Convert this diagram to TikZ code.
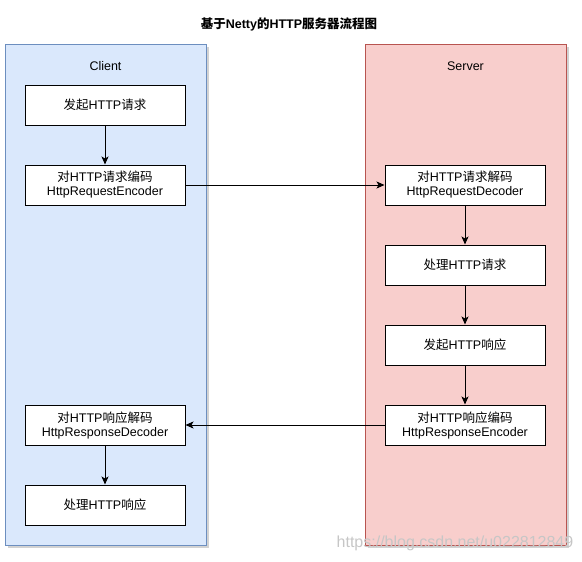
\documentclass[tikz,border=0pt]{standalone}
\usepackage{fontspec}
\setmainfont{Liberation Sans}
\newfontfamily\cjk{Noto Sans CJK SC}
\newcommand{\zh}[1]{{\cjk #1}}
\usetikzlibrary{arrows.meta,shadows,positioning}
\definecolor{clientfill}{HTML}{DAE8FC}
\definecolor{clientline}{HTML}{6C8EBF}
\definecolor{serverfill}{HTML}{F8CECC}
\definecolor{serverline}{HTML}{B85450}

\begin{document}
\begin{tikzpicture}[x=1pt, y=-1pt, line width=1pt,
  >={Stealth[length=8pt,width=7pt,inset=2pt]},
  lane/.style={draw, minimum width=201pt, minimum height=501pt, inner sep=0pt,
    drop shadow={shadow xshift=3pt, shadow yshift=-3pt, fill=gray!70, opacity=.5}},
  lanetitle/.style={font=\fontsize{12.5}{14}\selectfont},
  stepbox/.style={draw, fill=white, minimum width=160pt, minimum height=40pt,
    inner sep=0pt, align=center, font=\fontsize{12.5}{14}\selectfont}]
\useasboundingbox (0,0) rectangle (582,562);
\node[font=\fontsize{12.5}{14}\selectfont\bfseries] (title) at (289,24) {\zh{基于}Netty\zh{的}HTTP\zh{服务器流程图}};
% swimlanes
\node[lane, fill=clientfill, draw=clientline] (client) at (105.5,294.5) {};
\node[lane, fill=serverfill, draw=serverline] (server) at (465.5,294.5) {};
\node[lanetitle] (clientlabel) at (105.5,66) {Client};
\node[lanetitle] (serverlabel) at (465.5,66) {Server};
% client side
\node[stepbox] (sendreq) at (105,105) {\zh{发起}HTTP\zh{请求}};
\node[stepbox] (encreq) at (105,185) {\zh{对}HTTP\zh{请求编码}\\HttpRequestEncoder};
\node[stepbox] (decresp) at (105,425) {\zh{对}HTTP\zh{响应解码}\\HttpResponseDecoder};
\node[stepbox] (handleresp) at (105,505) {\zh{处理}HTTP\zh{响应}};
% server side
\node[stepbox] (decreq) at (465,185) {\zh{对}HTTP\zh{请求解码}\\HttpRequestDecoder};
\node[stepbox] (handlereq) at (465,265) {\zh{处理}HTTP\zh{请求}};
\node[stepbox] (sendresp) at (465,345) {\zh{发起}HTTP\zh{响应}};
\node[stepbox] (encresp) at (465,425) {\zh{对}HTTP\zh{响应编码}\\HttpResponseEncoder};
\draw[->] (sendreq) -- (encreq);
\draw[->] (encreq) -- (decreq);
\draw[->] (decreq) -- (handlereq);
\draw[->] (handlereq) -- (sendresp);
\draw[->] (sendresp) -- (encresp);
\draw[->] (encresp) -- (decresp);
\draw[->] (decresp) -- (handleresp);
\node[text=gray!45, font=\fontsize{16}{16}\selectfont] (watermark) at (455,543) {https://blog.csdn.net/u022812849};
\end{tikzpicture}
\end{document}
